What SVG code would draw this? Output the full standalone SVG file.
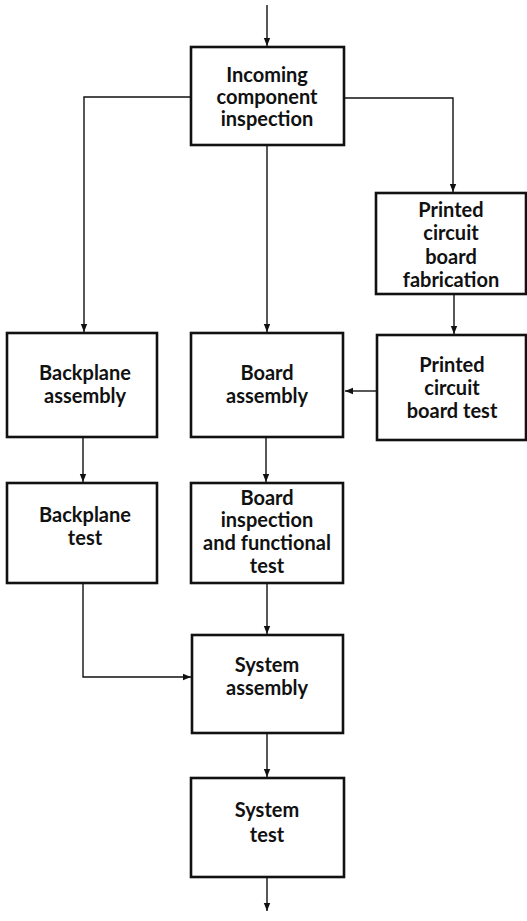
<svg xmlns="http://www.w3.org/2000/svg" width="527" height="921" viewBox="0 0 527 921">
<style>
.box{fill:#fff;stroke:#111;stroke-width:2.6}
.t{font-family:Lato,"Liberation Sans",sans-serif;font-weight:bold;font-size:20px;fill:#111;text-anchor:middle}
.c{fill:none;stroke:#111;stroke-width:1.4}
</style>
<defs>
<marker id="ah" viewBox="0 0 10 10" refX="10" refY="5" markerWidth="9" markerHeight="8" markerUnits="userSpaceOnUse" orient="auto">
<path d="M0,1 L10,5 L0,9 Z" fill="#111"/>
</marker>
</defs>
<rect width="527" height="921" fill="#fff"/>
<g id="connectors">
<path class="c" d="M267,5 V46" marker-end="url(#ah)"/>
<path class="c" d="M191,97 H84 V332" marker-end="url(#ah)"/>
<path class="c" d="M267,146 V332" marker-end="url(#ah)"/>
<path class="c" d="M344,98 H453 V192" marker-end="url(#ah)"/>
<path class="c" d="M454,294 V334" marker-end="url(#ah)"/>
<path class="c" d="M377,391 H345" marker-end="url(#ah)"/>
<path class="c" d="M83,437 V482" marker-end="url(#ah)"/>
<path class="c" d="M266,437 V482" marker-end="url(#ah)"/>
<path class="c" d="M83,583 V677 H191" marker-end="url(#ah)"/>
<path class="c" d="M267,583 V634" marker-end="url(#ah)"/>
<path class="c" d="M267,733 V777" marker-end="url(#ah)"/>
<path class="c" d="M267,877 V911" marker-end="url(#ah)"/>
</g>
<g id="incoming">
<rect class="box" x="191" y="47" width="153" height="98"/>
<text class="t" x="267" y="82">Incoming</text>
<text class="t" x="267" y="104">component</text>
<text class="t" x="267" y="126">inspection</text>
</g>
<g id="pcb-fab">
<rect class="box" x="376" y="193" width="150" height="101"/>
<text class="t" x="451" y="217">Printed</text>
<text class="t" x="451" y="240">circuit</text>
<text class="t" x="451" y="264">board</text>
<text class="t" x="451" y="287">fabrication</text>
</g>
<g id="backplane-assembly">
<rect class="box" x="7" y="333" width="150" height="104"/>
<text class="t" x="85" y="380">Backplane</text>
<text class="t" x="85" y="403">assembly</text>
</g>
<g id="board-assembly">
<rect class="box" x="191" y="333" width="152" height="104"/>
<text class="t" x="267" y="380">Board</text>
<text class="t" x="267" y="403">assembly</text>
</g>
<g id="pcb-test">
<rect class="box" x="377" y="335" width="149" height="105"/>
<text class="t" x="452" y="372">Printed</text>
<text class="t" x="452" y="395">circuit</text>
<text class="t" x="452" y="418">board test</text>
</g>
<g id="backplane-test">
<rect class="box" x="7" y="483" width="150" height="100"/>
<text class="t" x="85" y="522">Backplane</text>
<text class="t" x="85" y="545">test</text>
</g>
<g id="board-inspection">
<rect class="box" x="191" y="483" width="152" height="100"/>
<text class="t" x="267" y="505">Board</text>
<text class="t" x="267" y="527">inspection</text>
<text class="t" x="267" y="550">and functional</text>
<text class="t" x="267" y="573">test</text>
</g>
<g id="system-assembly">
<rect class="box" x="192" y="635" width="151" height="98"/>
<text class="t" x="267" y="672">System</text>
<text class="t" x="267" y="695">assembly</text>
</g>
<g id="system-test">
<rect class="box" x="191" y="778" width="153" height="99"/>
<text class="t" x="267" y="817">System</text>
<text class="t" x="267" y="842">test</text>
</g>
</svg>
